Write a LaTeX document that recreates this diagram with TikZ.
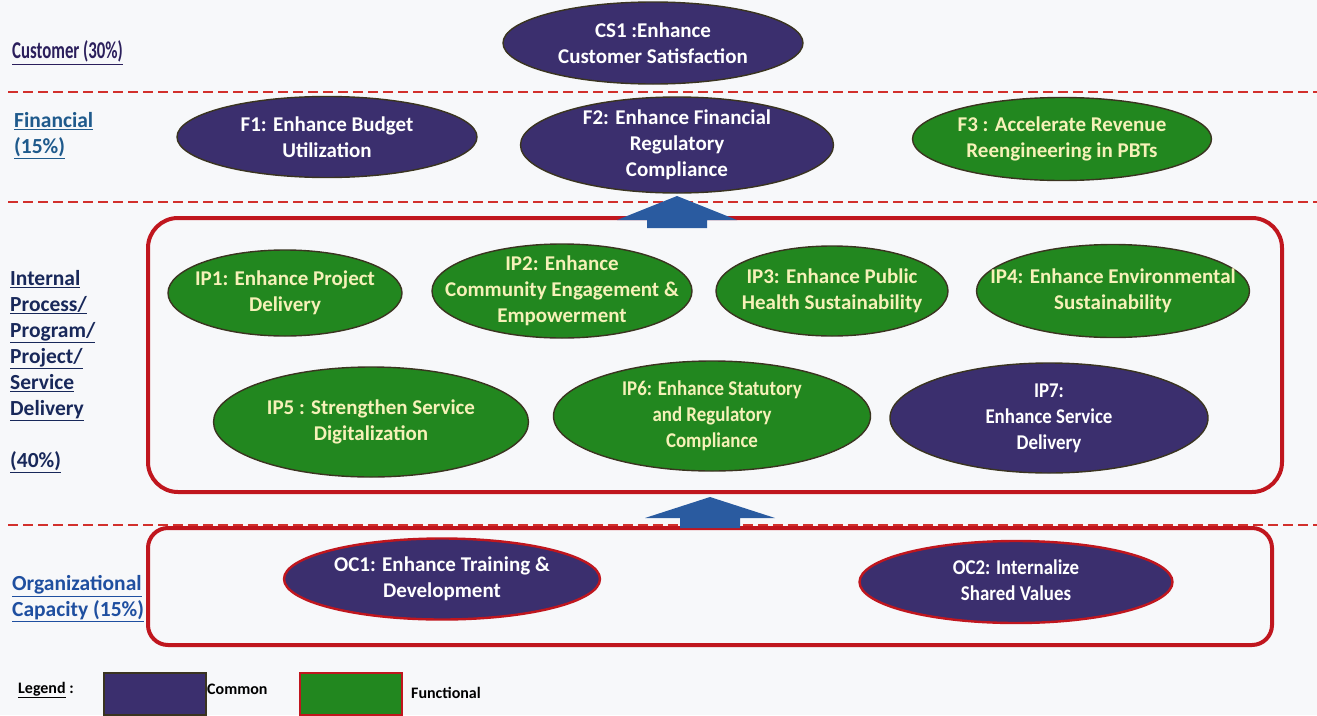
\documentclass[tikz,border=0pt]{standalone}
\usepackage{fontspec}
\setmainfont{Carlito}
\usetikzlibrary{shapes.geometric,calc}
\definecolor{bgc}{HTML}{F7F8FA}
\definecolor{common}{HTML}{3B2F6E}
\definecolor{functional}{HTML}{22871F}
\definecolor{ftext}{HTML}{F6F1B8}
\definecolor{edgec}{HTML}{3A3420}
\definecolor{boxred}{HTML}{C0161E}
\definecolor{dashred}{HTML}{D2302C}
\definecolor{arrowblue}{HTML}{2A5BA0}
\definecolor{custc}{HTML}{2B1F5C}
\definecolor{finc}{HTML}{1F5A8C}
\definecolor{intc}{HTML}{18285A}
\definecolor{orgc}{HTML}{1F4FA0}
\tikzset{
  goal/.style={ellipse, inner xsep=-90pt, inner ysep=-30pt, align=center,
    line width=1.4pt, draw=edgec, font=\bfseries\fontsize{21}{26}\selectfont},
  commongoal/.style={goal, fill=common, text=white},
  functionalgoal/.style={goal, fill=functional, text=ftext},
  capgoal/.style={commongoal, draw=boxred, line width=2.4pt},
  layerline/.style={dashred, line width=1.6pt, dash pattern=on 10pt off 5pt},
  layerbox/.style={boxred, line width=4pt},
  liftarrow/.style={fill=arrowblue, draw=none},
  persp/.style={anchor=west, align=left, font=\bfseries\fontsize{21.5}{26}\selectfont},
  legendtext/.style={anchor=west, inner sep=0pt, font=\bfseries\fontsize{16}{18}\selectfont},
}
\begin{document}
\begin{tikzpicture}[x=1pt,y=-1pt]
\fill[bgc] (0,0) rectangle (1317,715);
\useasboundingbox (0,0) rectangle (1317,715);

% perspective separators
\draw[layerline] (8,92) -- (1317,92);
\draw[layerline] (8,202) -- (1317,202);
\draw[layerline] (8,525) -- (1317,525);

% perspective labels
\node[anchor=west, text=custc, inner sep=0pt] (lcust) at (12,53)
  {\scalebox{0.8}[1.15]{\bfseries\fontsize{21}{24}\selectfont\underline{Customer (30\%)}}};
\node[persp, text=finc, inner sep=0pt] (lfin) at (14,136)
  {\underline{Financial}\\\underline{(15\%)}};
\node[persp, text=intc, inner sep=0pt, anchor=north west] (lint) at (10,270)
  {\underline{Internal}\\\underline{Process/}\\\underline{Program/}\\\underline{Project/}\\\underline{Service}\\\underline{Delivery}\\[26pt]\underline{(40\%)}};
\node[persp, text=orgc, inner sep=0pt] (lorg) at (12,599)
  {\underline{Organizational}\\\underline{Capacity (15\%)}};

% layer frames
\draw[layerbox, rounded corners=30pt] (148,218) rectangle (1282,492);
\draw[layerbox, rounded corners=20pt] (148,528) rectangle (1272,645);
\coordinate (intTop) at (677,218);
\coordinate (orgTop) at (710,528);

% customer
\node[commongoal, minimum width=300pt, minimum height=82pt] (cs1) at (653,43)
  {CS1 :Enhance\\Customer Satisfaction};

% financial
\node[commongoal, minimum width=300pt, minimum height=81pt] (f1) at (327,137)
  {F1: Enhance Budget\\Utilization};
\node[commongoal, minimum width=313pt, minimum height=96pt] (f2) at (677,145)
  {F2: Enhance Financial\\Regulatory\\Compliance};
\node[functionalgoal, minimum width=299pt, minimum height=83pt] (f3) at (1062,139)
  {F3 : Accelerate Revenue\\Reengineering in PBTs};

% internal process
\node[functionalgoal, minimum width=234pt, minimum height=86pt] (ip1) at (285,293)
  {IP1: Enhance Project\\Delivery};
\node[functionalgoal, minimum width=260pt, minimum height=94pt] (ip2) at (562,291)
  {IP2: Enhance\\Community Engagement \&\\Empowerment};
\node[functionalgoal, minimum width=232pt, minimum height=90pt] (ip3) at (832,291)
  {IP3: Enhance Public\\Health Sustainability};
\node[functionalgoal, minimum width=273pt, minimum height=93pt] (ip4) at (1113,291)
  {IP4: Enhance Environmental\\Sustainability};
\node[functionalgoal, minimum width=315pt, minimum height=110pt] (ip5) at (371,422)
  {IP5 : Strengthen Service\\Digitalization};
\node[functionalgoal, minimum width=317pt, minimum height=110pt] (ip6) at (712,416)
  {\scalebox{0.9}[1]{\begin{tabular}{@{}c@{}}IP6: Enhance Statutory\\and Regulatory\\Compliance\end{tabular}}};
\node[commongoal, minimum width=318pt, minimum height=110pt] (ip7) at (1049,418)
  {\scalebox{0.9}[1]{\begin{tabular}{@{}c@{}}IP7:\\Enhance Service\\Delivery\end{tabular}}};

% organizational capacity
\node[capgoal, minimum width=316pt, minimum height=81pt] (oc1) at (442,579)
  {OC1: Enhance Training \&\\Development};
\node[capgoal, minimum width=313pt, minimum height=82pt] (oc2) at (1016,582)
  {\scalebox{0.9}[1]{\begin{tabular}{@{}c@{}}OC2: Internalize\\Shared Values\end{tabular}}};

% upward arrows between layers
\fill[liftarrow] ($(intTop)+(-30,10)$) -- ++(0,-8) -- ++(-30,0) -- ($(intTop)+(0,-22)$)
  -- ($(intTop)+(60,2)$) -- ++(-30,0) -- ++(0,8) -- cycle;
\fill[liftarrow] ($(orgTop)+(-30,0)$) -- ++(0,-10) -- ++(-35,0) -- ($(orgTop)+(0,-31)$)
  -- ($(orgTop)+(65,-10)$) -- ++(-35,0) -- ++(0,10) -- cycle;

% legend
\node[legendtext] (leg) at (18,690) {\underline{Legend} :};
\draw[fill=common, draw=edgec, line width=2.5pt] (104,673) rectangle (206,715);
\node[legendtext] (lcom) at (207,689) {Common};
\draw[fill=functional, draw=boxred, line width=2.5pt] (300,673) rectangle (402,715);
\node[legendtext] (lfun) at (411,693) {Functional};
\end{tikzpicture}
\end{document}
